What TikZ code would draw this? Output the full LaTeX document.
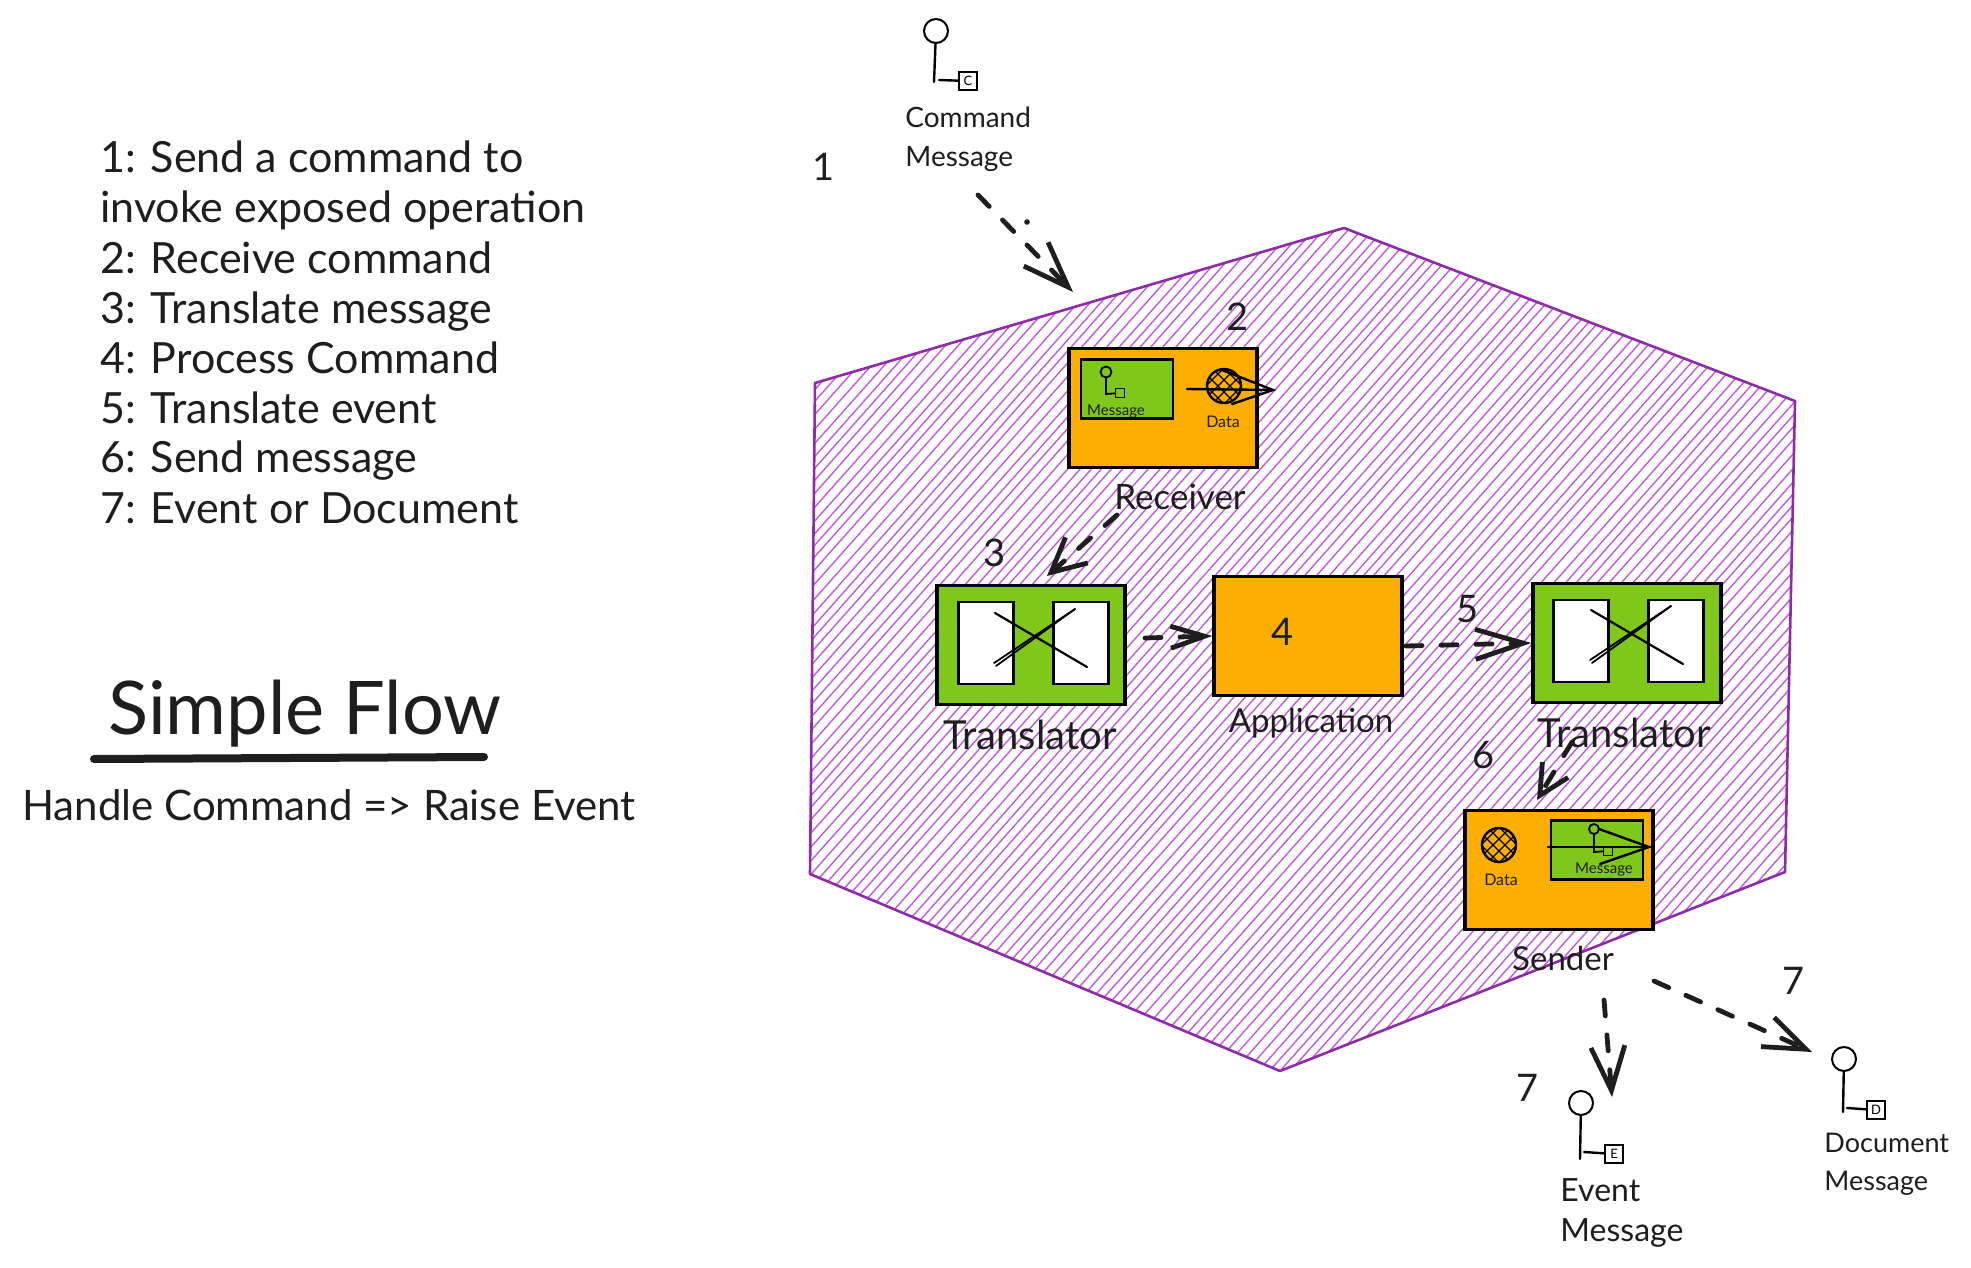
\documentclass[tikz,border=0pt]{standalone}
\usepackage{fontspec}
\setmainfont{Lato}
\usetikzlibrary{arrows.meta}
\definecolor{ink}{HTML}{1E1E1E}
\definecolor{hexline}{HTML}{8F2BAB}
\definecolor{hexfill}{HTML}{C25AE0}
\definecolor{orangebox}{HTML}{FCAE03}
\definecolor{greenbox}{HTML}{80C71B}
\tikzset{
  txt/.style={text=ink,inner sep=0pt,font=\fontsize{#1}{#1}\selectfont},
  para/.style={text=ink,inner sep=0pt,align=left,anchor=west,font=\fontsize{14}{19.5}\selectfont},
  listline/.style={text=ink,inner sep=0pt,anchor=base west,font=\fontsize{21.5}{22}\selectfont},
  obox/.style={draw=black,line width=1.6pt,fill=orangebox,minimum width=94pt,minimum height=59.5pt,inner sep=0pt},
  gbox/.style={draw=black,line width=1.6pt,fill=greenbox,minimum width=94pt,minimum height=59.5pt,inner sep=0pt},
  wbox/.style={draw=black,line width=1.4pt,fill=white,minimum width=27.5pt,minimum height=41pt,inner sep=0pt},
  msgbox/.style={draw=black,line width=1.3pt,fill=greenbox,minimum width=46pt,minimum height=29.5pt,inner sep=0pt},
  flow/.style n args={2}{draw=ink,line width=2.4pt,line cap=round,dash pattern=on 8pt off 9.5pt,
    -{Straight Barb[length=#1pt,width=#2pt,line width=2.4pt]}},
  stroke/.style={draw=black,line width=1.2pt,line cap=round},
  thin stroke/.style={draw=black,line width=0.9pt,line cap=round},
  iconc/.style={draw=black,line width=1pt,circle,minimum size=12pt,inner sep=0pt},
  icons/.style={draw=black,line width=1pt,minimum size=9pt,inner sep=0pt,font=\fontsize{6.5}{7}\selectfont},
}
\begin{document}
\begin{tikzpicture}[x=0.5pt,y=-0.5pt]
\useasboundingbox (0,0) rectangle (1971,1268);

% hexagon
\begin{scope}
  \clip (1344,228) -- (1795,401) -- (1785,872) -- (1280,1071) -- (810,874) -- (815,383) -- cycle;
  \foreach \i in {0,11.5,...,1900} {
    \draw[hexfill,line width=0.7pt] ({\i+2*sin(\i*3)},1100) -- ({\i+800+2*sin(\i*5)},200);
  }
\end{scope}
\draw[hexline,line width=1.3pt,line join=round] (1344,228) -- (1795,401) -- (1785,872) -- (1280,1071) -- (810,874) -- (815,383) -- cycle;

% legend
\node[listline] (l1) at (100,172) {1: Send a command to};
\node[listline] (l2) at (100,222) {invoke exposed operation};
\node[listline] (l3) at (100,273) {2: Receive command};
\node[listline] (l4) at (100,323) {3: Translate message};
\node[listline] (l5) at (100,373) {4: Process Command};
\node[listline] (l6) at (100,423) {5: Translate event};
\node[listline] (l7) at (100,472) {6: Send message};
\node[listline] (l8) at (100,523) {7: Event or Document};

\node[txt=37] (title) at (305,714) {Simple Flow};
\coordinate (ulA) at (94,759);
\coordinate (ulB) at (484,757);
\draw[ink,line width=4pt,line cap=round] (ulA) -- (ulB);
\node[txt=21] (subtitle) at (329,805) {Handle Command => Raise Event};

% command message icon
\node[iconc] (cmdC) at (936,31) {};
\node[icons] (cmdS) at (968,81) {C};
\coordinate (cmdK) at (934,82);
\coordinate (cmdL) at (939,80);
\draw[stroke] (cmdC) -- (cmdK);
\draw[stroke] (cmdL) -- (cmdS);
\node[para] (cmdT) at (905,139) {Command\\Message};

% event icon
\node[iconc] (evC) at (1581,1103) {};
\node[icons] (evS) at (1614,1154) {E};
\coordinate (evK) at (1580,1159);
\coordinate (evL) at (1584,1152);
\draw[stroke] (evC) -- (evK);
\draw[stroke] (evL) -- (evS);
\node[para,font=\fontsize{16}{20}\selectfont] (evT) at (1560,1213) {Event\\Message};

% document icon
\node[iconc] (docC) at (1844,1059) {};
\node[icons] (docS) at (1876,1110) {D};
\coordinate (docK) at (1843,1112);
\coordinate (docL) at (1847,1108);
\draw[stroke] (docC) -- (docK);
\draw[stroke] (docL) -- (docS);
\node[para,font=\fontsize{13.5}{19}\selectfont] (docT) at (1824,1164) {Document\\Message};

% receiver
\node[obox] (recv) at (1163,408) {};
\node[msgbox] (recvM) at (1127,389) {};
\node[draw=black,line width=0.9pt,circle,minimum size=5.5pt,inner sep=0pt] (recvMC) at (1106,372) {};
\node[draw=black,line width=0.9pt,minimum size=4.5pt,inner sep=0pt] (recvMS) at (1120,393) {};
\coordinate (recvMK) at (1106,394);
\draw[thin stroke] (recvMC) -- (recvMK) -- (recvMS);
\node[txt=7.5] (recvMT) at (1116,411) {Message};
\begin{scope}
  \clip (1224,386) circle[radius=17];
  \foreach \i in {-30,-18,...,42} {
    \draw[black,line width=0.55pt] (1224+\i-30,356) -- (1224+\i+30,416);
    \draw[black,line width=0.55pt] (1224+\i+30,356) -- (1224+\i-30,416);
  }
\end{scope}
\node[draw=black,line width=1.2pt,circle,minimum size=17pt,inner sep=0pt] (recvD) at (1224,386) {};
\node[txt=8] (recvDT) at (1223,422) {Data};
\coordinate (recvA) at (1187,389);
\coordinate (recvB) at (1273,390);
\coordinate (recvB1) at (1222,370);
\coordinate (recvB2) at (1232,404);
\draw[stroke] (recvA) -- (recvB);
\draw[stroke] (recvB1) -- (recvB) -- (recvB2);
\node[txt=17.5] (recvT) at (1180,497) {Receiver};

% translators
\node[gbox] (tl) at (1031,645) {};
\node[wbox] (tlA) at (986,643) {};
\node[wbox] (tlB) at (1081,643) {};
\coordinate (tlX1) at (995,613);
\coordinate (tlX2) at (1087,667);
\coordinate (tlX3) at (994,663);
\coordinate (tlX4) at (1075,609);
\coordinate (tlX5) at (996,666);
\draw[thin stroke,line width=1.1pt] (tlX1) -- (tlX2);
\draw[thin stroke] (tlX3) -- (tlX4);
\draw[thin stroke] (tlX5) -- (tlX4);
\node[txt=20] (tlT) at (1030,735) {Translator};

\node[gbox] (tr) at (1627,643) {};
\node[wbox] (trA) at (1581,641) {};
\node[wbox] (trB) at (1676,641) {};
\coordinate (trX1) at (1591,610);
\coordinate (trX2) at (1683,664);
\coordinate (trX3) at (1590,660);
\coordinate (trX4) at (1671,606);
\coordinate (trX5) at (1592,663);
\draw[thin stroke,line width=1.1pt] (trX1) -- (trX2);
\draw[thin stroke] (trX3) -- (trX4);
\draw[thin stroke] (trX5) -- (trX4);
\node[txt=20] (trT) at (1624,733) {Translator};

% application
\node[obox] (app) at (1308,636) {};
\node[txt=19] (appN) at (1283,632) {4};
\node[txt=16.5] (appT) at (1311,723) {Application};

% sender
\node[obox] (send) at (1559,870) {};
\begin{scope}
  \clip (1499,845) circle[radius=17];
  \foreach \i in {-30,-18,...,42} {
    \draw[black,line width=0.55pt] (1499+\i-30,815) -- (1499+\i+30,875);
    \draw[black,line width=0.55pt] (1499+\i+30,815) -- (1499+\i-30,875);
  }
\end{scope}
\node[draw=black,line width=1.2pt,circle,minimum size=17pt,inner sep=0pt] (sendD) at (1499,845) {};
\node[txt=8] (sendDT) at (1501,880) {Data};
\node[msgbox] (sendM) at (1597,850) {};
\node[draw=black,line width=0.9pt,circle,minimum size=5pt,inner sep=0pt] (sendMC) at (1594,829) {};
\node[draw=black,line width=0.9pt,minimum size=4.5pt,inner sep=0pt] (sendMS) at (1608,851) {};
\coordinate (sendMK) at (1594,852);
\draw[thin stroke] (sendMC) -- (sendMK) -- (sendMS);
\node[txt=7.5] (sendMT) at (1604,869) {Message};
\coordinate (sendA) at (1548,847);
\coordinate (sendB) at (1649,847);
\coordinate (sendB1) at (1599,829);
\coordinate (sendB2) at (1600,864);
\draw[stroke] (sendA) -- (sendB);
\draw[stroke] (sendB1) -- (sendB) -- (sendB2);
\node[txt=16.5] (sendT) at (1563,958) {Sender};

% step numbers
\node[txt=19] (n1) at (824,167) {1};
\node[txt=19] (n2) at (1238,317) {2};
\node[txt=19] (n3) at (995,553) {3};
\node[txt=19] (n5) at (1468,609) {5};
\node[txt=19] (n6) at (1484,755) {6};
\node[txt=19] (n7a) at (1794,981) {7};
\node[txt=19] (n7b) at (1528,1088) {7};

% flow connectors
\coordinate (f1a) at (978,195);
\coordinate (f1b) at (1073,292);
\coordinate (f2a) at (1117,515);
\coordinate (f2b) at (1047,576);
\coordinate (f3a) at (1145,638);
\coordinate (f4a) at (1406,646);
\coordinate (f5a) at (1572,742);
\coordinate (f5b) at (1537,800);
\coordinate (f6a) at (1604,1000);
\coordinate (f6b) at (1612,1097);
\coordinate (f7a) at (1654,981);
\coordinate (f7b) at (1812,1052);
\draw[flow={23}{17}] (f1a) -- (f1b);
\draw[flow={17}{17}] (f2a) -- (f2b);
\draw[flow={17}{11}] (f3a) -- (app.west);
\draw[flow={24}{15}] (f4a) -- (tr.west);
\draw[flow={15}{15}] (f5a) -- (f5b);
\draw[flow={22}{17}] (f6a) -- (f6b);
\draw[flow={21}{16}] (f7a) -- (f7b);
\fill[ink] (1027,222) circle[radius=2.8];
\end{tikzpicture}
\end{document}
